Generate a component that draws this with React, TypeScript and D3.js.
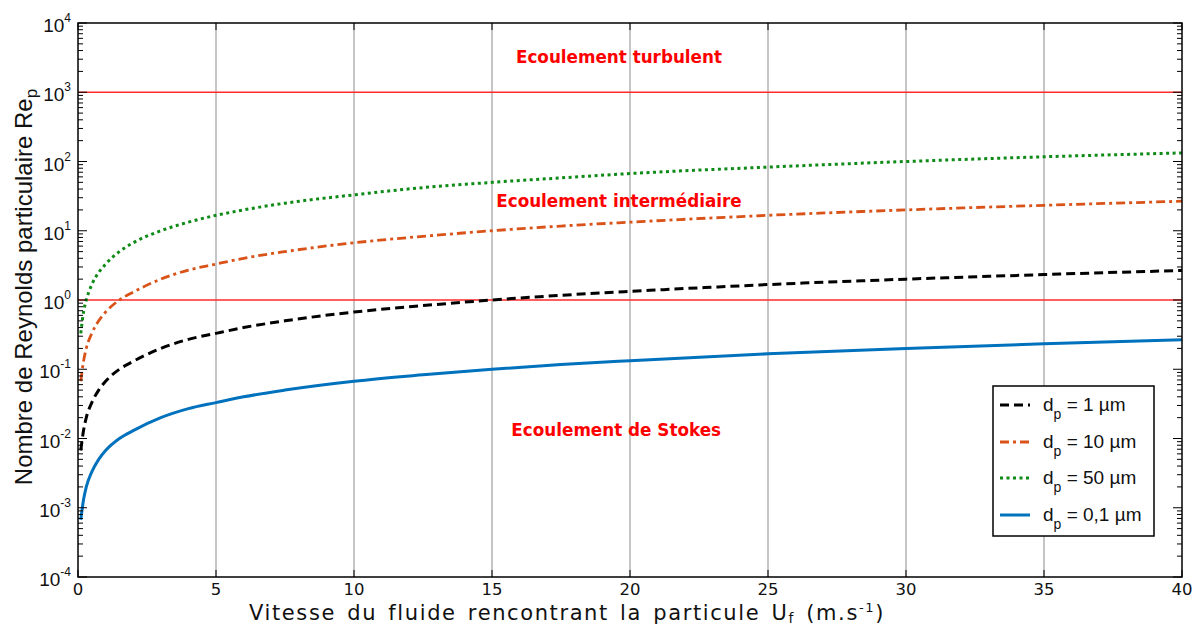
import React from "react";
import * as d3 from "d3";

const velocity = [0.1, 0.2, 0.3, 0.5, 0.75, 1, 1.5, 2, 3, 4, 5, 6, 7.5, 10, 12.5, 15, 17.5, 20, 25, 30, 35, 40];
const reDp1 = [0.0067, 0.013, 0.02, 0.033, 0.05, 0.067, 0.1, 0.13, 0.2, 0.27, 0.33, 0.4, 0.5, 0.67, 0.83, 1.0, 1.17, 1.33, 1.67, 2.0, 2.33, 2.67];
const reDp10 = [0.067, 0.13, 0.2, 0.33, 0.5, 0.67, 1.0, 1.3, 2.0, 2.7, 3.3, 4.0, 5.0, 6.7, 8.3, 10, 11.7, 13.3, 16.7, 20, 23.3, 26.7];
const reDp50 = [0.33, 0.67, 1.0, 1.67, 2.5, 3.3, 5.0, 6.7, 10, 13.3, 16.7, 20, 25, 33, 42, 50, 58, 67, 83, 100, 117, 133];
const reDp01 = [0.00067, 0.0013, 0.002, 0.0033, 0.005, 0.0067, 0.01, 0.013, 0.02, 0.027, 0.033, 0.04, 0.05, 0.067, 0.083, 0.1, 0.117, 0.133, 0.167, 0.2, 0.233, 0.267];

const seriesLabels = ["1 µm", "10 µm", "50 µm", "0,1 µm"];
const xTicks = [0, 5, 10, 15, 20, 25, 30, 35, 40];
const yDecades = [-4, -3, -2, -1, 0, 1, 2, 3, 4];
const regimeLimits = [1, 1000];
const regimeLabels = ["Ecoulement turbulent", "Ecoulement intermédiaire", "Ecoulement de Stokes"];
const regimeLabelX = [19.6, 19.6, 19.5];
const regimeLabelValues = [2650, 22, 0.011];

const W = 1196, H = 626;
const M = { left: 78, right: 1182, top: 23, bottom: 577 };

export default function App() {
  const x = d3.scaleLinear().domain([0, 40]).range([M.left, M.right]);
  const y = d3.scaleLog().domain([1e-4, 1e4]).range([M.bottom, M.top]);

  const series = [
    { values: reDp1, color: "#000000", dash: "9,5", width: 3 },
    { values: reDp10, color: "#D95319", dash: "9,4,3,4", width: 2.8 },
    { values: reDp50, color: "#0E8A16", dash: "3,3.5", width: 3 },
    { values: reDp01, color: "#0072BD", dash: null, width: 3 },
  ];

  const line = d3
    .line<[number, number]>()
    .x((d) => x(d[0]))
    .y((d) => y(d[1]))
    .curve(d3.curveMonotoneX);

  const minorTicks: number[] = [];
  yDecades.slice(0, -1).forEach((e) => {
    for (let k = 2; k <= 9; k++) minorTicks.push(k * Math.pow(10, e));
  });

  const legendX = 993, legendY = 386, legendW = 161, legendH = 150;
  const legendRows = [405, 442, 478, 515];

  return (
    <svg
      width={W}
      height={H}
      style={{ position: "absolute", left: 0, top: 0, background: "#fff" }}
      fontFamily="Liberation Sans, Arial, sans-serif"
    >
      <rect x={0} y={0} width={W} height={H} fill="#fff" />
      {xTicks.slice(1, -1).map((t) => (
        <line key={"g" + t} x1={x(t)} x2={x(t)} y1={M.top} y2={M.bottom} stroke="#8c8c8c" strokeWidth={1} />
      ))}
      {regimeLimits.map((v) => (
        <line key={"r" + v} x1={M.left} x2={M.right} y1={y(v)} y2={y(v)} stroke="#FF2A2A" strokeWidth={1.7} />
      ))}
      {series.map((s, i) => (
        <path
          key={"s" + i}
          d={line(velocity.map((u, j) => [u, s.values[j]] as [number, number])) || ""}
          fill="none"
          stroke={s.color}
          strokeWidth={s.width}
          strokeDasharray={s.dash || undefined}
        />
      ))}
      <rect x={M.left} y={M.top} width={M.right - M.left} height={M.bottom - M.top} fill="none" stroke="#000" strokeWidth={1.5} />
      {xTicks.map((t) => (
        <g key={"xt" + t}>
          <line x1={x(t)} x2={x(t)} y1={M.bottom} y2={M.bottom - 7} stroke="#000" strokeWidth={1} />
          <line x1={x(t)} x2={x(t)} y1={M.top} y2={M.top + 7} stroke="#000" strokeWidth={1} />
          <text x={x(t)} y={595} textAnchor="middle" fontSize={16.5} fontFamily="DejaVu Sans, sans-serif" fill="#111">
            {t}
          </text>
        </g>
      ))}
      {yDecades.map((e) => {
        const v = Math.pow(10, e);
        return (
          <g key={"yt" + e}>
            <line x1={M.left} x2={M.left + 9} y1={y(v)} y2={y(v)} stroke="#000" strokeWidth={1} />
            <line x1={M.right} x2={M.right - 9} y1={y(v)} y2={y(v)} stroke="#000" strokeWidth={1} />
            <text x={71} y={y(v) + 9} textAnchor="end" fontSize={19} fill="#111">
              10
              <tspan fontSize={12} dy={-10}>{e}</tspan>
            </text>
          </g>
        );
      })}
      {minorTicks.map((v, i) => (
        <g key={"mt" + i}>
          <line x1={M.left} x2={M.left + 5} y1={y(v)} y2={y(v)} stroke="#000" strokeWidth={1} />
          <line x1={M.right} x2={M.right - 5} y1={y(v)} y2={y(v)} stroke="#000" strokeWidth={1} />
        </g>
      ))}
      {regimeLabels.map((lab, i) => (
        <text
          key={"rl" + i}
          x={x(regimeLabelX[i])}
          y={y(regimeLabelValues[i])}
          textAnchor="middle"
          fontSize={16.8}
          fontWeight="bold"
          fontFamily="DejaVu Sans, sans-serif"
          fill="#FF0000"
        >
          {lab}
        </text>
      ))}
      <rect x={legendX} y={legendY} width={legendW} height={legendH} fill="#fff" stroke="#000" strokeWidth={1.5} />
      {series.map((s, i) => (
        <g key={"lg" + i}>
          <line
            x1={1000}
            x2={1030}
            y1={legendRows[i]}
            y2={legendRows[i]}
            stroke={s.color}
            strokeWidth={s.width}
            strokeDasharray={s.dash || undefined}
          />
          <text x={1043} y={legendRows[i] + 6} fontSize={19} fill="#111">
            d
            <tspan fontSize={14} dy={8}>p</tspan>
            <tspan dy={-8}>{" = " + seriesLabels[i]}</tspan>
          </text>
        </g>
      ))}
      <text
        x={567}
        y={620}
        textAnchor="middle"
        fontSize={21}
        letterSpacing={1.6}
        wordSpacing={3}
        fontFamily="DejaVu Sans, sans-serif"
        fill="#111"
      >
        Vitesse du fluide rencontrant la particule U
        <tspan fontSize={14} dy={3}>f</tspan>
        <tspan dy={-3}> (m.s</tspan>
        <tspan fontSize={13} dy={-8}>-1</tspan>
        <tspan dy={8}>)</tspan>
      </text>
      <text transform={`translate(32, 287) rotate(-90)`} textAnchor="middle" fontSize={24} fill="#111">
        Nombre de Reynolds particulaire Re
        <tspan fontSize={17} dy={5}>p</tspan>
      </text>
    </svg>
  );
}
